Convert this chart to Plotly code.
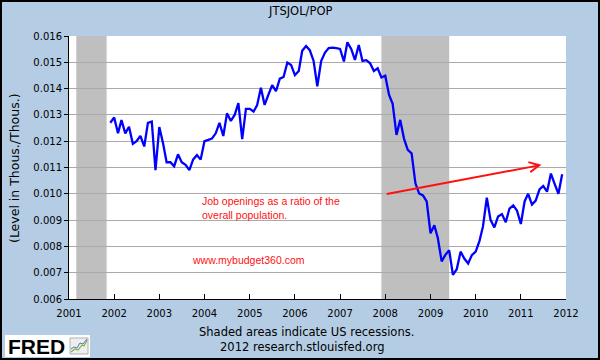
import pandas as pd
import plotly.graph_objects as go

# ---------------- data ----------------
start_month = "2001-12-01"
values = [
    0.0127, 0.0129, 0.0123, 0.0128, 0.0123, 0.01255, 0.0119, 0.0120, 0.0122, 0.0118,
    0.0127, 0.01275, 0.0109, 0.01254, 0.0119, 0.0112, 0.0112, 0.01105, 0.0115, 0.0112,
    0.0111, 0.0109, 0.0113, 0.01147, 0.0113, 0.0120, 0.01205, 0.0121, 0.0123, 0.0127,
    0.0122, 0.01306, 0.01277, 0.0130, 0.01345, 0.01208, 0.01323, 0.01323, 0.01313, 0.01336,
    0.01403, 0.01338, 0.01377, 0.01413, 0.0139, 0.01438, 0.01444, 0.01499, 0.0149, 0.01451,
    0.01467, 0.01544, 0.01562, 0.01546, 0.01505, 0.01409, 0.01505, 0.01537, 0.01554, 0.01556,
    0.01554, 0.01551, 0.01503, 0.01576, 0.01551, 0.01509, 0.01566, 0.01505, 0.01508, 0.01496,
    0.01467, 0.01477, 0.01442, 0.01449, 0.01376, 0.01342, 0.01224, 0.01281, 0.01209, 0.01167,
    0.01154, 0.0104, 0.01001, 0.00994, 0.00971, 0.0085, 0.0088, 0.00832, 0.00743, 0.00768,
    0.00785, 0.00692, 0.00713, 0.0078, 0.00754, 0.00735, 0.00767, 0.0078, 0.00821, 0.00876,
    0.00985, 0.00901, 0.00872, 0.00914, 0.00923, 0.00892, 0.00944, 0.00956, 0.00936, 0.00885,
    0.00972, 0.0100, 0.00959, 0.00974, 0.01017, 0.0103, 0.01008, 0.01077, 0.01038, 0.0100,
    0.01074,
]
dates = pd.date_range(start_month, periods=len(values), freq="MS")

recessions = [("2001-03-01", "2001-11-01"), ("2007-12-01", "2009-06-01")]
year_ticks = list(range(2001, 2013))
y_ticks = [0.006, 0.007, 0.008, 0.009, 0.010, 0.011, 0.012, 0.013, 0.014, 0.015, 0.016]

arrow_start = ("2008-01-01", 0.00998)
arrow_end = ("2011-06-17", 0.0111)

# ---------------- layout helpers (pixel -> paper) ----------------
L, R, T, B = 69, 34, 36, 61
W, H = 600, 360
PW, PH = W - L - R, H - T - B


def PX(p):
    return (p - L) / PW


def PY(p):
    return (H - B - p) / PH


BG = "#b4cde4"
FONT = "DejaVu Sans, Verdana, sans-serif"
RED = "#ff1010"

fig = go.Figure()
fig.add_trace(go.Scatter(x=dates, y=values, mode="lines",
                         line=dict(color="#0000ff", width=2.3),
                         hoverinfo="skip", showlegend=False))

shapes = []
for a, b in recessions:
    shapes.append(dict(type="rect", xref="x", yref="paper", x0=a, x1=b, y0=0, y1=1,
                       fillcolor="#bfbfbf", line=dict(width=0), layer="between"))

# outer border
shapes.append(dict(type="rect", xref="paper", yref="paper",
                   x0=PX(1), x1=PX(599), y0=PY(359), y1=PY(1),
                   line=dict(color="black", width=2), layer="above"))
# FRED logo box
shapes.append(dict(type="rect", xref="paper", yref="paper",
                   x0=PX(5), x1=PX(90), y0=PY(357), y1=PY(335),
                   fillcolor="white", line=dict(width=0), layer="above"))
shapes.append(dict(type="rect", xref="paper", yref="paper",
                   x0=PX(70), x1=PX(88), y0=PY(354), y1=PY(338),
                   fillcolor="#eeeeee", line=dict(color="#b0b0b0", width=1), layer="above"))


def path(points):
    s = ""
    for k, (px, py) in enumerate(points):
        s += ("M" if k == 0 else "L") + f"{PX(px):.5f},{PY(py):.5f}"
    return s


shapes.append(dict(type="path", xref="paper", yref="paper",
                   path=path([(71, 352), (75, 349), (78, 350), (82, 345), (84, 346), (87, 340)]),
                   line=dict(color="#7cb342", width=1.2), layer="above"))
shapes.append(dict(type="path", xref="paper", yref="paper",
                   path=path([(71, 349), (74, 347), (77, 348), (80, 343), (83, 344), (87, 339)]),
                   line=dict(color="#4a78c8", width=1), layer="above"))


def label(text, px, py, size, family=FONT, color="black", xanchor="center", **kw):
    return dict(text=text, xref="paper", yref="paper", x=PX(px), y=PY(py),
                xanchor=xanchor, yanchor="middle", showarrow=False,
                font=dict(family=family, size=size, color=color), **kw)


annotations = [
    label("JTSJOL/POP", 300, 11, 11.5),
    label("(Level in Thous./Thous.)", 14, 168, 12.5, textangle=-90),
    label("Shaded areas indicate US recessions.", 306, 332, 11.5),
    label("2012 research.stlouisfed.org", 302, 347, 11.5),
    label("<b>FRED</b>", 6, 346, 21, family="Liberation Sans, Arial", xanchor="left"),
    label("Job openings as a ratio of the<br>overall population.", 200, 207.5, 10.5,
          family="Liberation Sans, Arial", color=RED, xanchor="left", align="left"),
    label("www.mybudget360.com", 190, 260, 10.5,
          family="Liberation Sans, Arial", color=RED, xanchor="left"),
    dict(text="", x=arrow_end[0], y=arrow_end[1], xref="x", yref="y",
         ax=arrow_start[0], ay=arrow_start[1], axref="x", ayref="y",
         showarrow=True, arrowhead=5, arrowsize=1, arrowwidth=2, arrowcolor=RED,
         standoff=0, startstandoff=0),
]

fig.update_layout(
    width=W, height=H,
    margin=dict(l=L, r=R, t=T, b=B, pad=0),
    paper_bgcolor=BG, plot_bgcolor="white",
    shapes=shapes, annotations=annotations,
    showlegend=False,
    font=dict(family=FONT, size=10, color="black"),
)
fig.update_xaxes(
    type="date", range=["2001-01-01", "2012-01-01"],
    tickvals=[f"{y}-01-01" for y in year_ticks], ticktext=[str(y) for y in year_ticks],
    ticks="inside", ticklen=5, tickcolor="black", tickwidth=1,
    showline=True, linecolor="black", linewidth=1, mirror=False,
    showgrid=False, zeroline=False, tickfont=dict(family=FONT, size=10, color="black"),
    ticklabelstandoff=5,
)
fig.update_yaxes(
    range=[0.006, 0.016], tickvals=y_ticks, ticktext=[f"{v:.3f}" for v in y_ticks],
    ticks="outside", ticklen=4, tickcolor="black", tickwidth=1,
    showline=True, linecolor="black", linewidth=1,
    showgrid=True, gridcolor="#aaaaaa", gridwidth=1, zeroline=False,
    tickfont=dict(family=FONT, size=10, color="black"),
)

fig.write_html("out.html", config={"displayModeBar": False},
               post_script="document.body.style.margin='0';document.body.style.overflow='hidden';")
